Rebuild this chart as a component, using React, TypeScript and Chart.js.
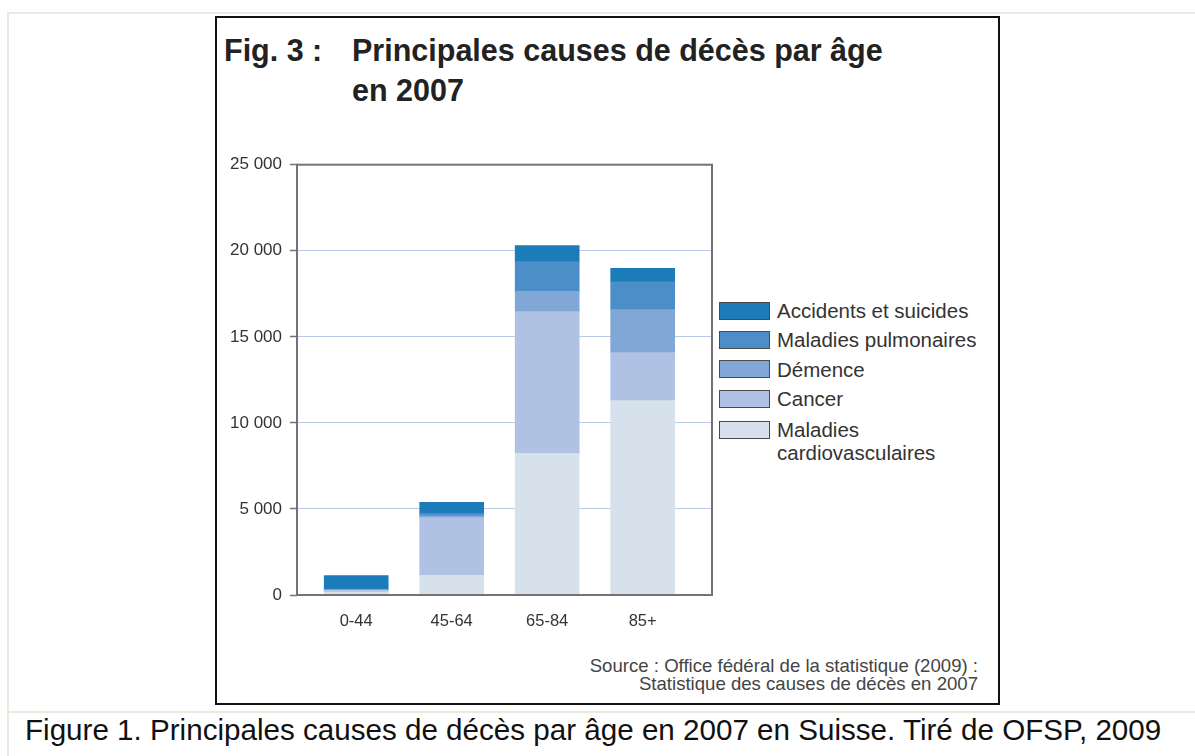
import React, { useEffect, useRef } from "react";
import { Chart, registerables } from "chart.js";

Chart.register(...registerables);

const ageGroups = ["0-44", "45-64", "65-84", "85+"];
const cardio = [170, 1150, 8230, 11290];
const cancer = [120, 3350, 8230, 2790];
const dementia = [15, 100, 1180, 2500];
const pulmonary = [20, 150, 1725, 1610];
const accidents = [800, 640, 930, 795];
const yTicks = [0, 5000, 10000, 15000, 20000, 25000];

const seriesNames = ["Maladies cardiovasculaires", "Cancer", "Démence", "Maladies pulmonaires", "Accidents et suicides"];
const seriesColors = ["#d7e1ec", "#afc2e3", "#81a7d6", "#4b8ec8", "#1c7bb9"];
const seriesValues = [cardio, cancer, dementia, pulmonary, accidents];

const FONT = "'Liberation Sans', Arial, Helvetica, sans-serif";

const fmt = (v: number) => String(v).replace(/\B(?=(\d{3})+(?!\d))/g, " ");

const framePlugin = {
  id: "frame",
  afterDatasetsDraw(chart: any) {
    const { ctx, chartArea } = chart;
    ctx.save();
    ctx.strokeStyle = "#737373";
    ctx.lineWidth = 2;
    ctx.strokeRect(chartArea.left, chartArea.top, chartArea.right - chartArea.left, chartArea.bottom - chartArea.top);
    ctx.restore();
  },
};

function BarChart() {
  const ref = useRef<HTMLCanvasElement | null>(null);
  useEffect(() => {
    if (!ref.current) return;
    const chart = new Chart(ref.current, {
      type: "bar",
      data: {
        datasets: seriesValues.map((vals, k) => ({
          label: seriesNames[k],
          data: vals.map((v, i) => ({ x: i, y: v })),
          backgroundColor: seriesColors[k],
          borderWidth: 0,
          barThickness: 64,
        })),
      },
      options: {
        animation: false,
        responsive: false,
        devicePixelRatio: 1,
        layout: { padding: { top: 34.7, left: 0, right: 5, bottom: 0 } },
        plugins: { legend: { display: false }, tooltip: { enabled: false } },
        scales: {
          x: {
            type: "linear",
            min: -0.62,
            max: 3.726,
            offset: false,
            stacked: true,
            grid: { display: false, drawTicks: false, offset: false },
            border: { display: false },
            afterBuildTicks: (s: any) => { s.ticks = ageGroups.map((_, i) => ({ value: i })); },
            afterFit: (s: any) => { s.height = 55; s.paddingLeft = 0; s.paddingRight = 0; },
            ticks: {
              autoSkip: false,
              maxRotation: 0,
              padding: 17,
              color: "#333",
              font: { family: FONT, size: 16.5 },
              callback: (v: any) => (Number.isInteger(v) && ageGroups[v] ? ageGroups[v] : ""),
            },
          },
          y: {
            type: "linear",
            min: 0,
            max: 25000,
            stacked: true,
            border: { display: false },
            afterFit: (s: any) => { s.width = 80; },
            grid: {
              color: (c: any) => (c.tick && (c.tick.value === 0 || c.tick.value === 25000) ? "rgba(0,0,0,0)" : "#b9c9e9"),
              lineWidth: 1,
              tickLength: 7,
              tickColor: "#737373",
              tickWidth: 1.5,
            },
            afterBuildTicks: (s: any) => { s.ticks = yTicks.map((v) => ({ value: v })); },
            ticks: {
              padding: 8,
              color: "#333",
              font: { family: FONT, size: 17 },
              callback: (v: any) => fmt(Number(v)),
            },
          },
        },
      },
      plugins: [framePlugin],
    } as any);
    return () => chart.destroy();
  }, []);
  return (
    <canvas
      ref={ref}
      width={500}
      height={520}
      style={{ position: "absolute", left: 217, top: 130, width: 500, height: 520 }}
    />
  );
}

export default function App() {
  const legendOrder = [4, 3, 2, 1, 0];
  const legendTops = [301, 330, 359.5, 389, 420];
  return (
    <div style={{ position: "absolute", left: 0, top: 0, width: 1195, height: 756, background: "#fff", overflow: "hidden", fontFamily: FONT }}>
      {/* beige page frame */}
      <div style={{ position: "absolute", left: 8, top: 12, width: 1187, height: 2, background: "#ece9df" }} />
      <div style={{ position: "absolute", left: 7, top: 12, width: 2, height: 744, background: "#ece9df" }} />
      <div style={{ position: "absolute", left: 8, top: 711, width: 1187, height: 2, background: "#ece9df" }} />
      {/* black figure box */}
      <div style={{ position: "absolute", left: 215, top: 16, width: 781, height: 685, border: "2px solid #111" }} />
      {/* title */}
      <div style={{ position: "absolute", left: 224, top: 61 - 0.8465 * 30.5, fontSize: 30.5, lineHeight: "30.5px", fontWeight: "bold", color: "#222", whiteSpace: "nowrap" }}>Fig. 3 :</div>
      <div style={{ position: "absolute", left: 352, top: 61 - 0.8465 * 30.5, fontSize: 30.5, lineHeight: "30.5px", fontWeight: "bold", color: "#222", whiteSpace: "nowrap" }}>Principales causes de décès par âge</div>
      <div style={{ position: "absolute", left: 352, top: 101 - 0.8465 * 30.5, fontSize: 30.5, lineHeight: "30.5px", fontWeight: "bold", color: "#222", whiteSpace: "nowrap" }}>en 2007</div>
      <BarChart />
      {/* legend */}
      {legendOrder.map((k, j) => (
        <div key={k} style={{ position: "absolute", left: 719, top: legendTops[j], height: 19, display: "flex", alignItems: "center" }}>
          <div style={{ width: 49, height: 16, background: seriesColors[k], border: "1.5px solid #4a4a4a" }} />
          {k !== 0 ? (
            <div style={{ marginLeft: 7, fontSize: 20.5, color: "#333", whiteSpace: "nowrap", lineHeight: "19px" }}>{seriesNames[k]}</div>
          ) : (
            <div style={{ marginLeft: 7, fontSize: 20.5, color: "#333", whiteSpace: "nowrap", lineHeight: "23px", position: "relative", top: 11 }}>
              Maladies<br />cardiovasculaires
            </div>
          )}
        </div>
      ))}
      {/* source */}
      <div style={{ position: "absolute", right: 1195 - 978, top: 657, fontSize: 18.6, lineHeight: "17.5px", color: "#444", textAlign: "right", whiteSpace: "nowrap" }}>
        Source : Office fédéral de la statistique (2009) :<br />Statistique des causes de décès en 2007
      </div>
      {/* caption */}
      <div style={{ position: "absolute", left: 25, top: 740.3 - 0.8465 * 29.6, fontSize: 29.6, lineHeight: "29.6px", color: "#111", whiteSpace: "nowrap" }}>
        Figure 1. Principales causes de décès par âge en 2007 en Suisse. Tiré de OFSP, 2009
      </div>
    </div>
  );
}
